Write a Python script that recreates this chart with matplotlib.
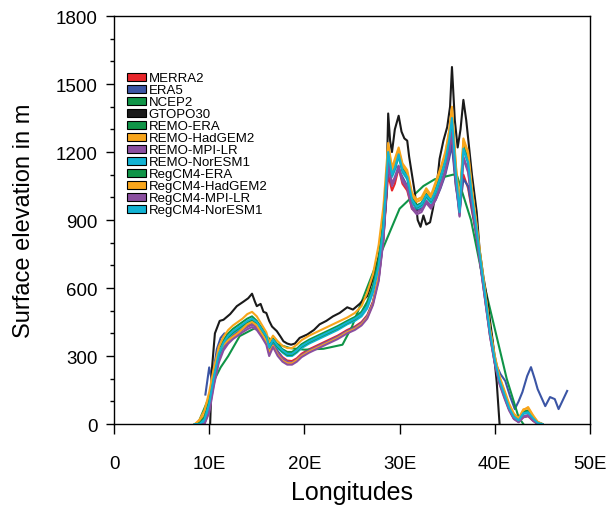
import numpy as np
import matplotlib.pyplot as plt
from matplotlib.patches import Patch
from matplotlib.ticker import MultipleLocator, FixedLocator

plt.rcParams['font.family'] = ['Liberation Sans', 'DejaVu Sans']

# common longitude grid for reanalysis / RCM cross-sections
lon = [8.5, 9.0, 9.5, 10.0, 10.5, 11.0, 11.5, 12.0, 12.5, 13.0,
       13.5, 14.0, 14.5, 15.0, 15.5, 16.0, 16.3, 16.7, 17.2, 17.7,
       18.2, 18.7, 19.2, 19.7, 20.5, 21.5, 22.5, 23.5, 24.5, 25.3,
       26.0, 26.6, 27.2, 27.8, 28.3, 28.8, 29.2, 29.5, 29.9, 30.3,
       30.8, 31.3, 31.8, 32.3, 32.8, 33.3, 33.8, 34.3, 34.8, 35.2,
       35.5, 35.9, 36.3, 36.7, 37.2, 37.6, 38.0, 38.5, 39.0, 39.5,
       40.0, 40.5, 41.0, 41.5, 42.0, 42.5, 43.0, 43.5, 44.0, 44.5,
       45.0]

merra2 = [0, 0, 10, 70, 190, 290, 340, 370, 390, 405,
          420, 435, 445, 430, 400, 365, 320, 355, 320, 295,
          280, 278, 290, 310, 330, 350, 370, 390, 415, 430,
          450, 480, 540, 650, 820, 1100, 1030, 1060, 1130, 1060,
          1030, 950, 935, 950, 985, 960, 1000, 1060, 1120, 1190,
          1260, 1060, 950, 1100, 1040, 940, 850, 700, 545, 390,
          270, 185, 125, 65, 25, 10, 30, 35, 15, 0,
          0]

remo_era = [0, 0, 20, 95, 220, 320, 370, 400, 420, 435,
            450, 465, 475, 455, 425, 395, 345, 378, 350, 330,
            318, 318, 332, 352, 372, 392, 412, 432, 455, 472,
            495, 540, 610, 730, 900, 1210, 1110, 1140, 1200, 1130,
            1100, 1000, 965, 975, 1015, 990, 1040, 1100, 1170, 1260,
            1360, 1120, 945, 1230, 1170, 1015, 895, 730, 570, 410,
            290, 200, 140, 80, 40, 20, 55, 60, 30, 5,
            0]

remo_had = [0, 10, 40, 120, 240, 340, 385, 415, 435, 450,
            465, 485, 495, 475, 440, 405, 360, 390, 365, 345,
            335, 335, 350, 370, 390, 410, 430, 450, 470, 490,
            520, 580, 660, 790, 960, 1240, 1130, 1170, 1220, 1150,
            1120, 1020, 990, 1000, 1040, 1010, 1070, 1130, 1200, 1290,
            1400, 1150, 960, 1260, 1200, 1040, 910, 740, 580, 420,
            300, 210, 150, 90, 45, 25, 60, 75, 40, 10,
            0]

remo_mpi = [0, 0, 0, 60, 180, 280, 335, 365, 385, 400,
            415, 428, 438, 425, 395, 360, 310, 350, 315, 290,
            275, 272, 285, 305, 325, 345, 365, 385, 410, 425,
            445, 475, 535, 640, 820, 1160, 1060, 1090, 1140, 1080,
            1050, 960, 935, 945, 985, 960, 1000, 1055, 1120, 1200,
            1300, 1080, 920, 1180, 1120, 980, 860, 700, 545, 390,
            270, 180, 120, 65, 25, 10, 35, 40, 20, 0,
            0]

remo_nor = [0, 0, 10, 80, 200, 300, 350, 380, 400, 415,
            430, 445, 455, 440, 410, 380, 330, 365, 335, 315,
            300, 300, 315, 335, 355, 375, 395, 415, 440, 455,
            475, 510, 580, 690, 860, 1190, 1090, 1120, 1180, 1110,
            1080, 980, 950, 960, 1000, 975, 1020, 1080, 1150, 1240,
            1340, 1100, 930, 1210, 1150, 1000, 880, 720, 560, 400,
            280, 190, 130, 70, 30, 15, 45, 50, 25, 5,
            0]

regcm_era = [0, 5, 30, 100, 215, 310, 355, 385, 405, 420,
             435, 450, 460, 445, 415, 385, 335, 368, 340, 320,
             305, 305, 320, 342, 362, 382, 402, 422, 446, 462,
             485, 525, 595, 710, 880, 1200, 1100, 1130, 1190, 1120,
             1090, 990, 955, 968, 1008, 982, 1030, 1090, 1160, 1250,
             1350, 1110, 940, 1220, 1160, 1008, 888, 725, 565, 405,
             285, 195, 135, 75, 35, 18, 50, 55, 28, 5,
             0]

regcm_had = [0, 20, 60, 140, 250, 320, 350, 370, 385, 400,
             420, 440, 450, 435, 400, 365, 315, 345, 305, 280,
             268, 268, 282, 300, 320, 340, 360, 380, 405, 420,
             440, 470, 530, 650, 840, 1230, 1120, 1150, 1210, 1140,
             1110, 1010, 980, 990, 1030, 1000, 1060, 1120, 1190, 1290,
             1390, 1140, 955, 1250, 1190, 1030, 900, 735, 575, 415,
             295, 205, 145, 85, 45, 25, 65, 70, 35, 10,
             0]

regcm_mpi = [0, 0, 0, 50, 170, 270, 325, 355, 375, 390,
             405, 418, 428, 415, 385, 350, 300, 340, 300, 275,
             262, 262, 275, 295, 315, 335, 355, 375, 400, 415,
             435, 465, 525, 630, 810, 1150, 1050, 1080, 1130, 1070,
             1040, 950, 925, 935, 975, 950, 990, 1045, 1110, 1190,
             1290, 1070, 915, 1170, 1110, 975, 855, 695, 540, 385,
             265, 175, 115, 60, 22, 8, 30, 35, 15, 0,
             0]

regcm_nor = [0, 0, 20, 90, 210, 310, 358, 390, 410, 425,
             440, 455, 465, 450, 418, 388, 338, 372, 345, 325,
             310, 310, 325, 345, 365, 385, 405, 425, 448, 465,
             485, 520, 590, 700, 870, 1200, 1100, 1130, 1190, 1120,
             1090, 990, 958, 970, 1010, 985, 1030, 1090, 1160, 1250,
             1350, 1110, 935, 1215, 1155, 1005, 885, 722, 562, 402,
             282, 192, 132, 72, 32, 16, 48, 52, 26, 5,
             0]

# ERA5 has its own (wider) extent
lon_era5 = [9.6, 10.0, 10.3, 10.8, 11.2, 11.6, 12.0, 12.5, 13.0, 13.5,
            14.0, 14.5, 15.0, 15.5, 16.0, 16.3, 16.7, 17.2, 17.7, 18.2,
            18.7, 19.2, 19.7, 20.5, 21.5, 22.5, 23.5, 24.5, 25.3, 26.0,
            26.6, 27.2, 27.8, 28.3, 28.8, 29.2, 29.5, 29.9, 30.3, 30.8,
            31.3, 31.8, 32.3, 32.8, 33.3, 33.8, 34.3, 34.8, 35.2, 35.5,
            35.9, 36.3, 36.7, 37.2, 37.6, 38.0, 38.5, 39.0, 39.5, 40.0,
            40.2, 40.6, 41.1, 41.6, 42.1, 42.5, 42.9, 43.4, 43.8, 44.2,
            44.5, 45.3, 45.8, 46.3, 46.7, 47.6]
era5 = [130, 250, 190, 330, 380, 400, 390, 400, 415, 425,
        438, 448, 432, 400, 370, 325, 355, 320, 290, 275,
        270, 280, 300, 320, 345, 365, 385, 410, 425, 445,
        475, 535, 640, 820, 1140, 1140, 1150, 1120, 1090, 1050,
        980, 945, 950, 980, 960, 990, 1040, 1100, 1170, 1230,
        1050, 940, 1080, 1050, 950, 850, 700, 560, 430, 300,
        256, 220, 190, 123, 66, 100, 141, 212, 251, 198,
        154, 79, 119, 110, 66, 146]

# NCEP2 is on a coarse grid
lon_ncep2 = [8.8, 10.0, 10.6, 11.2, 12.0, 13.2, 14.8, 17.1, 18.5, 20.0,
             22.0, 24.0, 25.0, 27.5, 30.0, 32.5, 33.7, 35.6, 36.0, 37.5,
             38.75, 40.0, 41.25, 42.5, 43.0]
ncep2 = [0, 120, 200, 250, 300, 388, 423, 353, 335, 328,
         332, 350, 430, 700, 950, 1050, 1080, 1100, 1100, 900,
         640, 420, 200, 30, 0]

# GTOPO30 high-resolution topography
lon_gtopo = [10.1, 10.3, 10.6, 11.1, 11.5, 12.2, 12.9, 13.6, 14.1, 14.5,
             14.8, 15.0, 15.4, 15.7, 16.0, 16.3, 16.6, 17.1, 17.5, 17.8,
             18.2, 18.6, 19.0, 19.5, 20.3, 21.0, 21.6, 22.3, 23.0, 23.7,
             24.5, 25.1, 25.8, 26.6, 27.2, 27.6, 28.0, 28.3, 28.6, 28.8,
             29.0, 29.2, 29.5, 29.9, 30.2, 30.5, 30.8, 31.0, 31.3, 31.6,
             31.9, 32.2, 32.5, 32.8, 33.2, 33.5, 33.9, 34.2, 34.6, 35.0,
             35.3, 35.5, 35.8, 36.1, 36.4, 36.7, 37.0, 37.2, 37.6, 38.1,
             38.4, 38.8, 39.2, 39.8, 40.2, 40.5]
gtopo30 = [0, 250, 400, 455, 460, 485, 520, 540, 555, 575,
           540, 520, 530, 495, 490, 455, 430, 410, 385, 365,
           355, 350, 355, 380, 395, 415, 440, 455, 475, 490,
           515, 505, 530, 565, 640, 700, 780, 840, 1000, 1370,
           1250, 1200, 1300, 1360, 1290, 1260, 1250, 1180, 1100, 1020,
           900, 870, 920, 880, 890, 950, 1050, 1170, 1250, 1310,
           1400, 1575, 1340, 1220, 1300, 1430, 1340, 1260, 1100, 935,
           770, 650, 550, 360, 185, 0]

red = '#e8262b'
blue = '#3b55a5'
green = '#0f9447'
orange = '#f8a51b'
purple = '#8b4fa0'
cyan = '#12b2d3'

series = [
    ('MERRA2', lon, merra2, red),
    ('ERA5', lon_era5, era5, blue),
    ('NCEP2', lon_ncep2, ncep2, green),
    ('GTOPO30', lon_gtopo, gtopo30, '#1a1a1a'),
    ('REMO-ERA', lon, remo_era, green),
    ('REMO-HadGEM2', lon, remo_had, orange),
    ('REMO-MPI-LR', lon, remo_mpi, purple),
    ('REMO-NorESM1', lon, remo_nor, cyan),
    ('RegCM4-ERA', lon, regcm_era, green),
    ('RegCM4-HadGEM2', lon, regcm_had, orange),
    ('RegCM4-MPI-LR', lon, regcm_mpi, purple),
    ('RegCM4-NorESM1', lon, regcm_nor, cyan),
]

fig = plt.figure(figsize=(6.08, 5.06), dpi=100)
ax = fig.add_axes([0.1875, 0.160, 0.7829, 0.8064])

handles = []
for name, x, y, c in series:
    ax.plot(x, np.clip(y, 0, None), color=c, lw=1.5)
    handles.append(Patch(facecolor=c, edgecolor='black', lw=0.8, label=name))

ax.set_xlim(0, 50)
ax.set_ylim(0, 1800)
ax.xaxis.set_major_locator(FixedLocator([0, 10, 20, 30, 40, 50]))
ax.set_xticklabels(['0', '10E', '20E', '30E', '40E', '50E'])
ax.yaxis.set_major_locator(MultipleLocator(300))
ax.yaxis.set_minor_locator(MultipleLocator(100))
ax.tick_params(axis='x', which='major', direction='out', length=7,
               width=1, labelsize=13.5, pad=15)
ax.tick_params(axis='y', which='major', direction='out', length=6,
               width=1, labelsize=13.5, pad=6)
ax.tick_params(axis='y', which='minor', direction='out', length=3, width=1)
ax.tick_params(top=False, right=False)
for s in ax.spines.values():
    s.set_linewidth(1.0)

ax.set_xlabel('Longitudes', fontsize=18, labelpad=6)
ax.set_ylabel('Surface elevation in m', fontsize=17, labelpad=15)

leg = ax.legend(handles=handles, loc='upper left',
                bbox_to_anchor=(0.027, 0.862), frameon=False, fontsize=9.5,
                handlelength=1.45, handleheight=0.55, handletextpad=0.2,
                labelspacing=0.0, borderaxespad=0, borderpad=0)

fig.savefig('out.png', dpi=100)
